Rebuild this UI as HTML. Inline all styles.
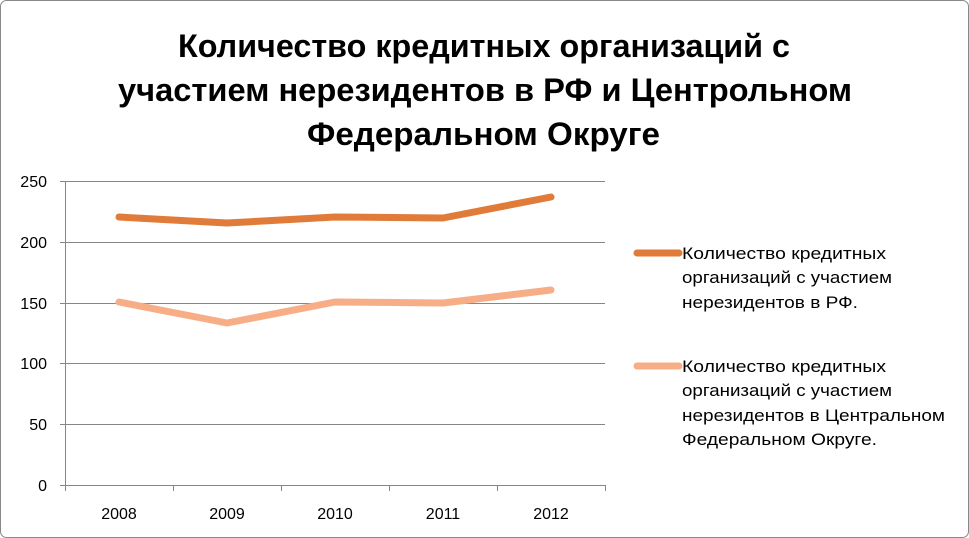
<!DOCTYPE html>
<html><head><meta charset="utf-8"><style>
body{margin:0;background:#fff;}
svg{display:block;font-family:"Liberation Sans","DejaVu Sans",sans-serif;}
</style></head><body>
<svg width="969" height="538" viewBox="0 0 969 538">
<rect x="0.5" y="0.5" width="968" height="537" rx="6" fill="#fff" stroke="#888" stroke-width="1"/>
<g font-weight="bold" font-size="32" fill="#000" lengthAdjust="spacingAndGlyphs">
<text x="178" y="57" textLength="612" lengthAdjust="spacingAndGlyphs">Количество кредитных организаций с</text>
<text x="118" y="101" textLength="734" lengthAdjust="spacingAndGlyphs">участием нерезидентов в РФ и Центрольном</text>
<text x="307" y="145" textLength="353" lengthAdjust="spacingAndGlyphs">Федеральном Округе</text>
</g>
<g stroke="#868686" stroke-width="1">
<line x1="65" y1="181.5" x2="605" y2="181.5"/>
<line x1="65" y1="242.5" x2="605" y2="242.5"/>
<line x1="65" y1="303.5" x2="605" y2="303.5"/>
<line x1="65" y1="363.5" x2="605" y2="363.5"/>
<line x1="65" y1="424.5" x2="605" y2="424.5"/>
<line x1="65" y1="485.5" x2="605" y2="485.5"/>
<line x1="65.5" y1="181" x2="65.5" y2="491"/>
<line x1="60" y1="181.5" x2="65" y2="181.5"/>
<line x1="60" y1="242.5" x2="65" y2="242.5"/>
<line x1="60" y1="303.5" x2="65" y2="303.5"/>
<line x1="60" y1="363.5" x2="65" y2="363.5"/>
<line x1="60" y1="424.5" x2="65" y2="424.5"/>
<line x1="60" y1="485.5" x2="65" y2="485.5"/>
<line x1="173.5" y1="485" x2="173.5" y2="491"/>
<line x1="281.5" y1="485" x2="281.5" y2="491"/>
<line x1="389.5" y1="485" x2="389.5" y2="491"/>
<line x1="497.5" y1="485" x2="497.5" y2="491"/>
<line x1="605.5" y1="485" x2="605.5" y2="491"/>
</g>
<g font-size="16" fill="#000" text-anchor="end">
<text x="47" y="187">250</text><text x="47" y="248">200</text><text x="47" y="309">150</text>
<text x="47" y="369">100</text><text x="47" y="430">50</text><text x="47" y="491">0</text>
</g>
<g font-size="16" fill="#000" text-anchor="middle">
<text x="119" y="519">2008</text><text x="227" y="519">2009</text><text x="335" y="519">2010</text>
<text x="443" y="519">2011</text><text x="551" y="519">2012</text>
</g>
<polyline points="119,217 227,223 335,217 443,218 551,197" fill="none" stroke="#E07B39" stroke-width="7" stroke-linecap="round" stroke-linejoin="round"/>
<polyline points="119,302 227,323 335,302 443,303 551,290" fill="none" stroke="#F7AE87" stroke-width="7" stroke-linecap="round" stroke-linejoin="round"/>
<line x1="637" y1="253" x2="679" y2="253" stroke="#E07B39" stroke-width="7" stroke-linecap="round"/>
<line x1="637" y1="366" x2="679" y2="366" stroke="#F7AE87" stroke-width="7" stroke-linecap="round"/>
<g font-size="17" fill="#000">
<text x="682" y="259" textLength="204" lengthAdjust="spacingAndGlyphs">Количество кредитных</text>
<text x="682" y="283" textLength="210" lengthAdjust="spacingAndGlyphs">организаций с участием</text>
<text x="682" y="308" textLength="176" lengthAdjust="spacingAndGlyphs">нерезидентов в РФ.</text>
<text x="682" y="372" textLength="204" lengthAdjust="spacingAndGlyphs">Количество кредитных</text>
<text x="682" y="396" textLength="210" lengthAdjust="spacingAndGlyphs">организаций с участием</text>
<text x="682" y="421" textLength="263" lengthAdjust="spacingAndGlyphs">нерезидентов в Центральном</text>
<text x="682" y="445" textLength="195" lengthAdjust="spacingAndGlyphs">Федеральном Округе.</text>
</g>
</svg>
</body></html>
